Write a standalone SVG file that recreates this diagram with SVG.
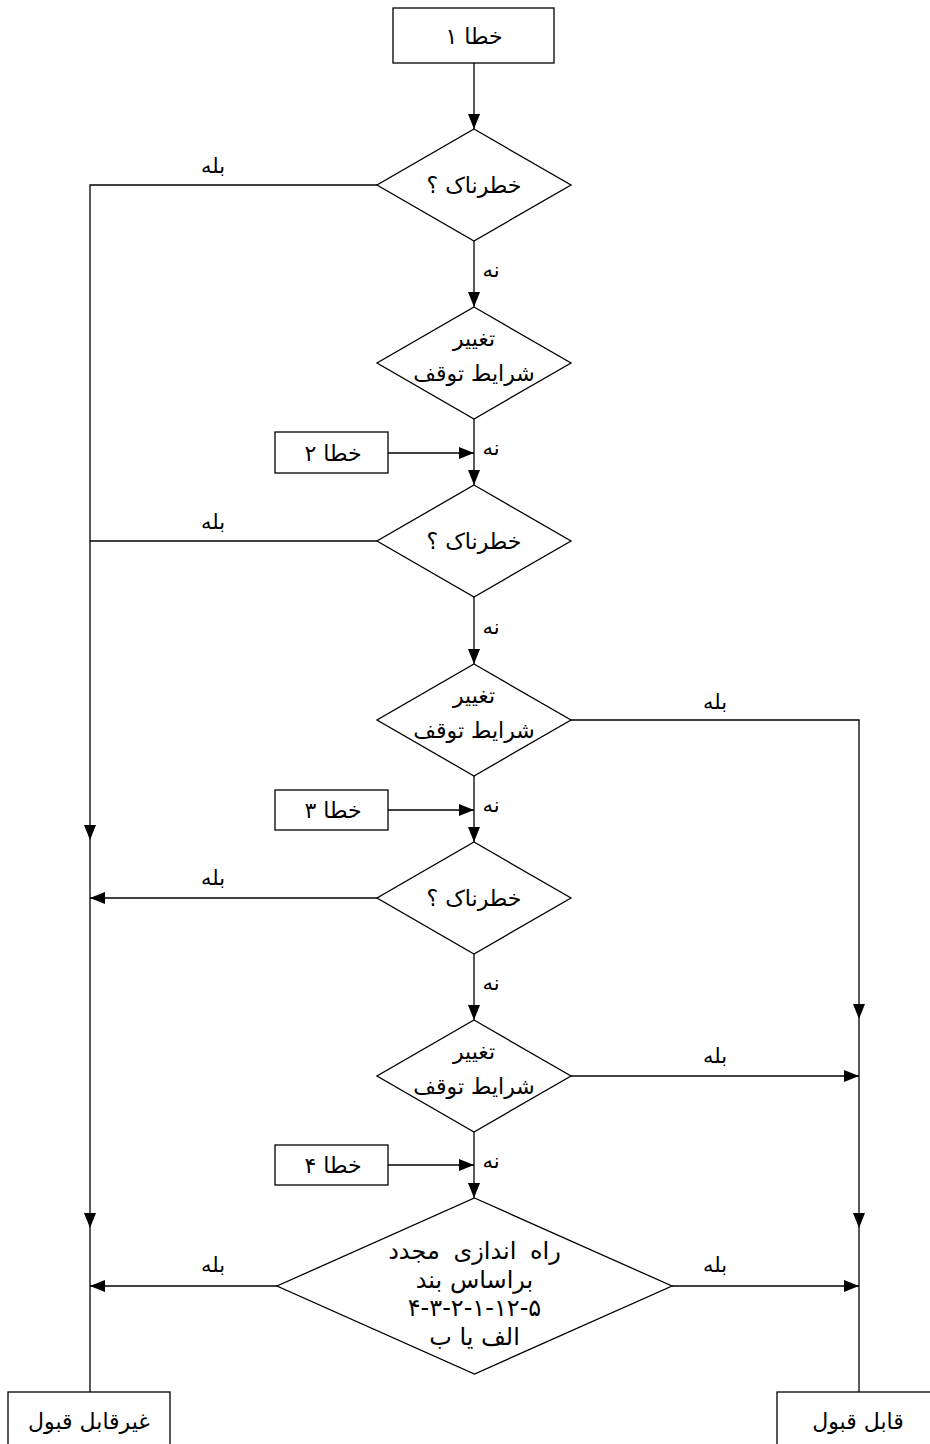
<svg xmlns="http://www.w3.org/2000/svg" width="930" height="1444" viewBox="0 0 930 1444">
<defs>
<marker id="ah" viewBox="0 0 15 12" refX="15" refY="6" markerWidth="15" markerHeight="12" markerUnits="userSpaceOnUse" orient="auto">
<path d="M0,0 L15,6 L0,12 Z" fill="#000"/>
</marker>
<style>
.shape{fill:#fff;stroke:#000;stroke-width:1.3}
.con{fill:none;stroke:#000;stroke-width:1.3}
.arr{fill:none;stroke:#000;stroke-width:1.3;marker-end:url(#ah)}
text{font-family:"DejaVu Sans",sans-serif;font-size:22px;fill:#000;text-anchor:middle;direction:rtl}
.lbl{font-size:21px}
.big{font-size:24px}
.wide{word-spacing:6px}
</style>
</defs>
<rect width="930" height="1444" fill="#fff"/>
<g id="connectors">
<path class="arr" d="M474,63 V129"/>
<path class="arr" d="M474,241 V307"/>
<path class="arr" d="M474,419 V485"/>
<path class="arr" d="M474,597 V664"/>
<path class="arr" d="M474,776 V842"/>
<path class="arr" d="M474,954 V1020"/>
<path class="arr" d="M474,1132 V1198"/>
<path class="arr" d="M388,453 H474"/>
<path class="arr" d="M388,810 H474"/>
<path class="arr" d="M388,1165 H474"/>
<path class="arr" d="M377,185 H90 V840"/>
<path class="arr" d="M90,840 V1228"/>
<path class="con" d="M90,1228 V1392"/>
<path class="con" d="M377,541 H90"/>
<path class="arr" d="M377,898 H90"/>
<path class="arr" d="M277,1286 H90"/>
<path class="arr" d="M571,720 H859 V1019"/>
<path class="arr" d="M859,1019 V1228"/>
<path class="con" d="M859,1228 V1392"/>
<path class="arr" d="M571,1076 H859"/>
<path class="arr" d="M672,1286 H859"/>
<text class="lbl" x="491" y="277">نه</text>
<text class="lbl" x="491" y="455">نه</text>
<text class="lbl" x="491" y="634">نه</text>
<text class="lbl" x="491" y="812">نه</text>
<text class="lbl" x="491" y="990">نه</text>
<text class="lbl" x="491" y="1168">نه</text>
<text class="lbl" x="213" y="173">بله</text>
<text class="lbl" x="213" y="529">بله</text>
<text class="lbl" x="213" y="885">بله</text>
<text class="lbl" x="213" y="1272">بله</text>
<text class="lbl" x="715" y="709">بله</text>
<text class="lbl" x="715" y="1063">بله</text>
<text class="lbl" x="715" y="1272">بله</text>
</g>
<g id="error1">
<rect class="shape" x="393" y="8" width="161" height="55"/>
<text x="474" y="44">خطا ۱</text>
</g>
<g id="hazard1">
<polygon class="shape" points="474,129 571,185 474,241 377,185"/>
<text x="474" y="193">خطرناک ؟</text>
</g>
<g id="stop1">
<polygon class="shape" points="474,307 571,363 474,419 377,363"/>
<text x="474" y="346">تغییر</text>
<text x="474" y="381">شرایط توقف</text>
</g>
<g id="error2">
<rect class="shape" x="275" y="432" width="113" height="41"/>
<text x="333" y="461">خطا ۲</text>
</g>
<g id="hazard2">
<polygon class="shape" points="474,485 571,541 474,597 377,541"/>
<text x="474" y="549">خطرناک ؟</text>
</g>
<g id="stop2">
<polygon class="shape" points="474,664 571,720 474,776 377,720"/>
<text x="474" y="703">تغییر</text>
<text x="474" y="738">شرایط توقف</text>
</g>
<g id="error3">
<rect class="shape" x="275" y="790" width="113" height="40"/>
<text x="333" y="818">خطا ۳</text>
</g>
<g id="hazard3">
<polygon class="shape" points="474,842 571,898 474,954 377,898"/>
<text x="474" y="906">خطرناک ؟</text>
</g>
<g id="stop3">
<polygon class="shape" points="474,1020 571,1076 474,1132 377,1076"/>
<text x="474" y="1059">تغییر</text>
<text x="474" y="1094">شرایط توقف</text>
</g>
<g id="error4">
<rect class="shape" x="275" y="1145" width="113" height="40"/>
<text x="333" y="1173">خطا ۴</text>
</g>
<g id="restart">
<polygon class="shape" points="474.5,1198 672,1286 474.5,1374 277,1286"/>
<text class="big wide" x="474.5" y="1259">راه اندازی مجدد</text>
<text class="big" x="474.5" y="1288">براساس بند</text>
<text class="big" x="474.5" y="1316">۴-۳-۲-۱-۱۲-۵</text>
<text class="big" x="474.5" y="1345">الف یا ب</text>
</g>
<g id="unacceptable">
<rect class="shape" x="8" y="1392" width="162" height="70"/>
<text x="89" y="1429">غیرقابل قبول</text>
</g>
<g id="acceptable">
<rect class="shape" x="777" y="1392" width="170" height="70"/>
<text x="858" y="1429">قابل قبول</text>
</g>
</svg>
